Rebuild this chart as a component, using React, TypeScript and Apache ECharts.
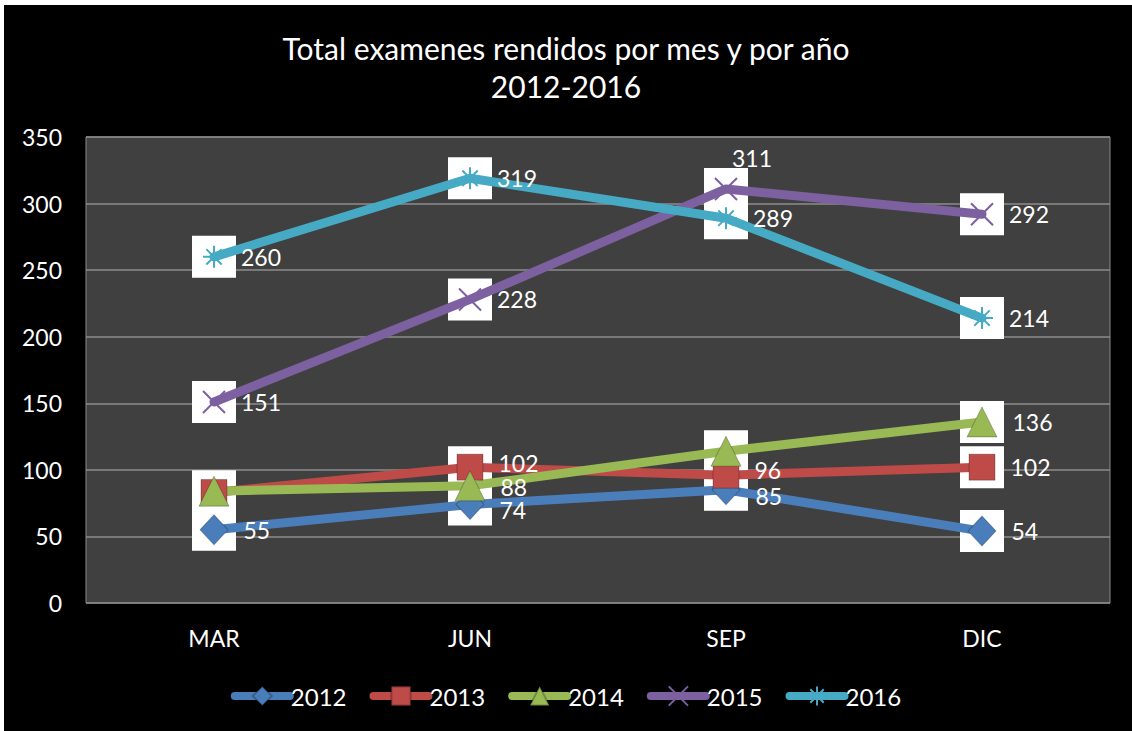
import React, { useEffect, useRef } from "react";
import * as echarts from "echarts";

const months = ["MAR", "JUN", "SEP", "DIC"];
const years = ["2012", "2013", "2014", "2015", "2016"];
const v2012 = [55, 74, 85, 54];
const v2013 = [83, 102, 96, 102];
const v2014 = [84, 88, 114, 136];
const v2015 = [151, 228, 311, 292];
const v2016 = [260, 319, 289, 214];
const yTicks = { min: 0, max: 350, interval: 50 };

const seriesValues = [v2012, v2013, v2014, v2015, v2016];
const colors = ["#4a7ebb", "#be4b48", "#98b954", "#7d60a0", "#46aac5"];
const symbols: any[] = [
  "diamond",
  "rect",
  "triangle",
  "path://M0,0L10,10M10,0L0,10",
  "path://M5,0L5,10M0,5L10,5M1.5,1.5L8.5,8.5M8.5,1.5L1.5,8.5",
];
const symbolSizes: any[] = [[28, 30], 26, 30, 22, 22];
// label overrides: [seriesIndex, pointIndex] -> label option
const labelOverrides: Record<string, any> = {
  "1-0": { show: false },
  "2-0": { show: false },
  "2-2": { show: false },
  "3-2": { position: "top", offset: [26, 8] },
  "1-2": { offset: [0, -5] },
  "0-2": { offset: [0, 6] },
  "2-1": { offset: [0, 1] },
  "0-1": { offset: [0, 6] },
  "1-1": { offset: [0, -4] },
};

const FONT = "Lato, 'Open Sans', sans-serif";

export default function App() {
  const ref = useRef<HTMLDivElement>(null);
  useEffect(() => {
    if (!ref.current) return;
    const chart = echarts.init(ref.current, null, { renderer: "svg" });
    const lineSeries = seriesValues.map((vals, i) => {
      const stroked = i >= 3;
      return {
        name: years[i],
        type: "line",
        z: 3,
        data: vals.map((v, j) => {
          const ov = labelOverrides[`${i}-${j}`];
          return ov ? { value: v, label: ov } : v;
        }),
        symbol: symbols[i],
        symbolSize: symbolSizes[i],
        symbolKeepAspect: true,
        lineStyle: { color: colors[i], width: 9, cap: "round", join: "round" },
        itemStyle: stroked
          ? { color: "rgba(0,0,0,0)", borderColor: colors[i], borderWidth: 2 }
          : { color: colors[i], borderColor: "rgba(0,0,0,0.25)", borderWidth: 1 },
        color: colors[i],
        label: {
          show: true,
          position: "right",
          distance: 15,
          color: "#ffffff",
          fontSize: 23,
          fontFamily: FONT,
        },
      };
    });
    const boxSeries = seriesValues.map((vals, i) => ({
      name: "box" + years[i],
      type: "scatter",
      z: 1,
      silent: true,
      data: vals,
      symbol: "rect",
      symbolSize: [44, 42],
      itemStyle: { color: "#ffffff", opacity: 1 },
    }));
    chart.setOption({
      animation: false,
      backgroundColor: "#000000",
      textStyle: { fontFamily: FONT },
      title: {
        text: "Total examenes rendidos por mes y por año\n2012-2016",
        left: "center",
        top: 24,
        textStyle: {
          color: "#ffffff",
          fontSize: 30,
          fontWeight: "normal",
          lineHeight: 38,
          fontFamily: FONT,
        },
      },
      graphic: [
        { type: "rect", shape: { x: 0, y: 0, width: 1132, height: 5 }, style: { fill: "#ffffff" } },
        { type: "rect", shape: { x: 0, y: 0, width: 4, height: 731 }, style: { fill: "#ffffff" } },
      ],
      legend: {
        data: years,
        left: "center",
        top: 679,
        itemWidth: 55,
        itemHeight: 24,
        itemGap: 23,
        lineStyle: { width: 8, cap: "round" },
        textStyle: { color: "#ffffff", fontSize: 24, fontFamily: FONT, padding: [0, 0, 0, -4] },
      },
      grid: {
        left: 86,
        right: 22,
        top: 137,
        bottom: 128,
        show: true,
        backgroundColor: "#404040",
        borderColor: "#8a8a8a",
        borderWidth: 1,
      },
      xAxis: {
        type: "category",
        data: months,
        boundaryGap: true,
        axisLine: { show: false },
        axisTick: { show: false },
        axisLabel: { color: "#ffffff", fontSize: 23, margin: 23, fontFamily: FONT },
      },
      yAxis: {
        type: "value",
        min: yTicks.min,
        max: yTicks.max,
        interval: yTicks.interval,
        axisLine: { show: false },
        axisTick: { show: false },
        splitLine: { lineStyle: { color: "#8c8c8c", width: 1.5 } },
        axisLabel: { color: "#ffffff", fontSize: 23, margin: 24, fontFamily: FONT },
      },
      series: [...boxSeries, ...lineSeries],
    });
    return () => chart.dispose();
  }, []);
  return (
    <div
      ref={ref}
      style={{ position: "absolute", left: 0, top: 0, width: 1132, height: 731 }}
    />
  );
}
